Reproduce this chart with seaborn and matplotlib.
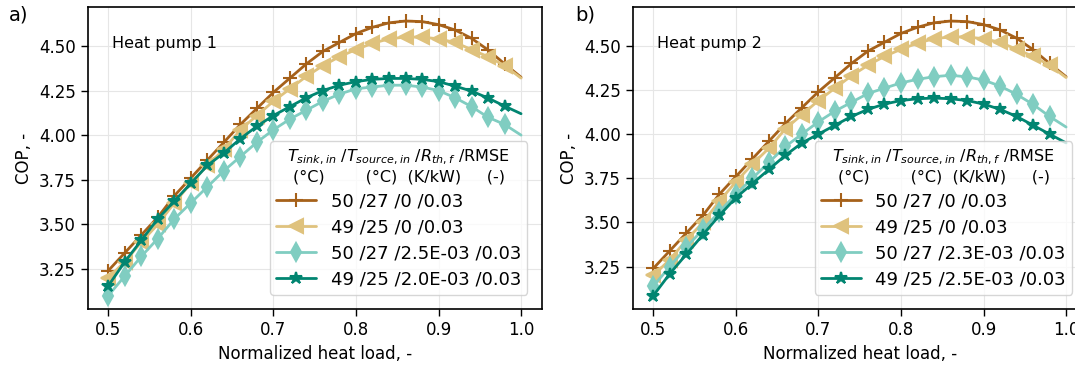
import matplotlib
matplotlib.use('Agg')
import matplotlib.pyplot as plt
import seaborn as sns

# ─── Data ──────────────────────────────────────────────────────────────────────
load = [0.50, 0.52, 0.54, 0.56, 0.58, 0.60, 0.62, 0.64, 0.66, 0.68, 0.70, 0.72, 0.74,
        0.76, 0.78, 0.80, 0.82, 0.84, 0.86, 0.88, 0.90, 0.92, 0.94, 0.96, 0.98, 1.00]

# clean cases (identical for both heat pumps)
cop_50_27_clean = [3.24, 3.34, 3.44, 3.54, 3.66, 3.76, 3.86, 3.96, 4.06, 4.15, 4.24, 4.32, 4.40,
                   4.47, 4.52, 4.57, 4.605, 4.63, 4.64, 4.637, 4.62, 4.59, 4.543, 4.478, 4.40, 4.325]
cop_49_25_clean = [3.20, 3.29, 3.40, 3.50, 3.62, 3.73, 3.83, 3.92, 4.03, 4.11, 4.19, 4.26, 4.33,
                   4.39, 4.44, 4.48, 4.515, 4.54, 4.55, 4.55, 4.54, 4.52, 4.48, 4.44, 4.39, 4.32]

# heat pump 1, fouled
hp1_50_27_foul = [3.10, 3.21, 3.32, 3.42, 3.53, 3.62, 3.71, 3.80, 3.88, 3.96, 4.03, 4.09, 4.14,
                  4.19, 4.23, 4.26, 4.27, 4.28, 4.28, 4.27, 4.25, 4.21, 4.16, 4.10, 4.06, 4.00]
hp1_49_25_foul = [3.155, 3.29, 3.41, 3.53, 3.63, 3.73, 3.83, 3.90, 3.98, 4.05, 4.11, 4.16, 4.21,
                  4.25, 4.28, 4.30, 4.313, 4.318, 4.318, 4.313, 4.30, 4.275, 4.247, 4.208, 4.163, 4.12]

# heat pump 2, fouled
hp2_50_27_foul = [3.14, 3.25, 3.36, 3.46, 3.56, 3.66, 3.75, 3.84, 3.93, 4.00, 4.07, 4.13, 4.18,
                  4.23, 4.26, 4.29, 4.31, 4.325, 4.333, 4.324, 4.306, 4.272, 4.225, 4.168, 4.10, 4.04]
hp2_49_25_foul = [3.086, 3.21, 3.32, 3.43, 3.54, 3.64, 3.72, 3.80, 3.88, 3.95, 4.00, 4.05, 4.10,
                  4.14, 4.17, 4.19, 4.20, 4.204, 4.20, 4.19, 4.17, 4.14, 4.10, 4.05, 4.00, 3.95]

labels_hp1 = ['50 /27 /0 /0.03', '49 /25 /0 /0.03',
              '50 /27 /2.5E-03 /0.03', '49 /25 /2.0E-03 /0.03']
labels_hp2 = ['50 /27 /0 /0.03', '49 /25 /0 /0.03',
              '50 /27 /2.3E-03 /0.03', '49 /25 /2.5E-03 /0.03']

colors = ['#a6611a', '#dfc27d', '#80cdc1', '#018571']
markers = ['+', '<', 'd', '*']
msizes = [10, 10, 9, 9]

legend_title = ('$T_{sink,in}$ /$T_{source,in}$ /$R_{th,f}$ /RMSE\n'
                '(°C)        (°C)  (K/kW)     (-)')

# ─── Style ─────────────────────────────────────────────────────────────────────
sns.set_style('whitegrid', {'axes.edgecolor': 'black', 'grid.color': '#e6e6e6',
                            'xtick.bottom': True, 'ytick.left': True})
plt.rcParams['font.family'] = ['DejaVu Sans']
plt.rcParams['axes.linewidth'] = 1.2
plt.rcParams['text.color'] = 'black'
plt.rcParams['axes.labelcolor'] = 'black'
plt.rcParams['xtick.color'] = 'black'
plt.rcParams['ytick.color'] = 'black'


def draw_panel(ax, series, labels, text):
    for ys, lab, c, m, ms in zip(series, labels, colors, markers, msizes):
        sns.lineplot(x=load, y=ys, ax=ax, color=c, marker=m, markersize=ms,
                     markeredgecolor=c, markeredgewidth=1.5, linewidth=2,
                     markevery=slice(0, len(load) - 1), label=lab)
    ax.set_xticks([0.5, 0.6, 0.7, 0.8, 0.9, 1.0])
    ax.set_xticklabels(['0.5', '0.6', '0.7', '0.8', '0.9', '1.0'])
    ax.set_yticks([3.25, 3.50, 3.75, 4.00, 4.25, 4.50])
    ax.set_yticklabels(['3.25', '3.50', '3.75', '4.00', '4.25', '4.50'])
    ax.tick_params(labelsize=12, length=5, width=1.0, colors='black')
    ax.set_xlabel('Normalized heat load, -', fontsize=12)
    ax.set_ylabel('COP, -', fontsize=12)
    ax.text(0.053, 0.88, text, transform=ax.transAxes, fontsize=11.5, va='center')
    leg = ax.legend(loc='lower right', fontsize=13, title=legend_title,
                    title_fontsize=11.5, borderaxespad=0.8, handlelength=2.2,
                    labelspacing=0.45, borderpad=0.35, handletextpad=0.8)
    leg.get_title().set_multialignment('center')
    leg.get_frame().set_edgecolor('#cccccc')
    for s in ax.spines.values():
        s.set_color('black')
    return leg


fig = plt.figure(figsize=(10.75, 3.66), dpi=100)
ax1 = fig.add_axes([0.0816, 0.155, 0.4223, 0.825])
ax2 = fig.add_axes([0.5886, 0.155, 0.4223, 0.825])

draw_panel(ax1, [cop_50_27_clean, cop_49_25_clean, hp1_50_27_foul, hp1_49_25_foul],
           labels_hp1, 'Heat pump 1')
draw_panel(ax2, [cop_50_27_clean, cop_49_25_clean, hp2_50_27_foul, hp2_49_25_foul],
           labels_hp2, 'Heat pump 2')

fig.text(0.008, 0.945, 'a)', fontsize=14)
fig.text(0.535, 0.945, 'b)', fontsize=14)

fig.savefig('out.png', dpi=100)
